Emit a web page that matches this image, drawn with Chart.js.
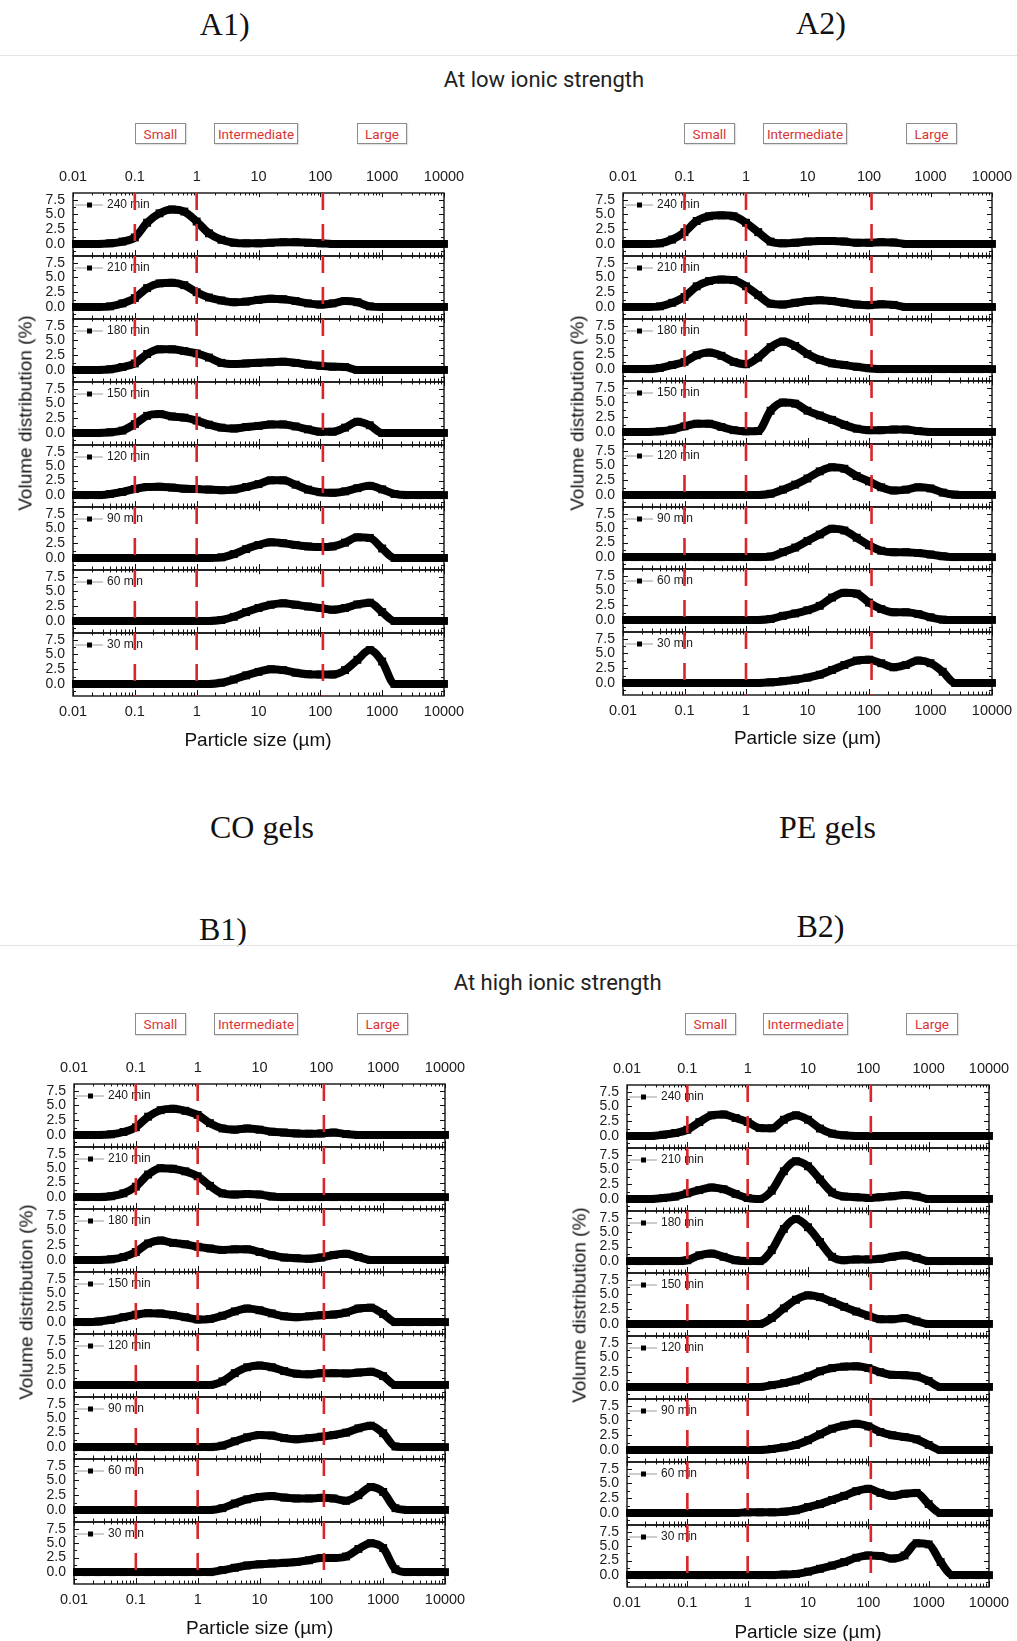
<!DOCTYPE html>
<html>
<head>
<meta charset="utf-8">
<title>Particle size distributions</title>
<script src="https://cdn.jsdelivr.net/npm/chart.js@4.4.1/dist/chart.umd.min.js"></script>
<style>
  body { margin: 0; background: #fff; }
  #fig { position: relative; width: 1017px; height: 1641px; overflow: hidden; background: #fff; }
  .t { position: absolute; transform: translate(-50%, -50%); white-space: nowrap; line-height: 1; }
  .serif { font-family: 'Liberation Serif', 'Times New Roman', serif; font-size: 32px; color: #111; }
  .head { font-family: Roboto, sans-serif; font-size: 22px; color: #222; }
  .axt { font-family: 'Liberation Sans', Arial, sans-serif; font-size: 19px; color: #111; }
  .box { position: absolute; box-sizing: border-box; border: 1px solid #8c8c8c; display: flex;
         align-items: center; justify-content: center; font-family: Roboto, sans-serif;
         font-size: 13.5px; color: #d83434; box-shadow: 1px 1px 1px rgba(0,0,0,.12); }
  .rule { position: absolute; left: 0; width: 1017px; height: 1px; background: #e4e4e4; }
  canvas { position: absolute; }
</style>
</head>
<body>
<div id="fig"></div>
<script>
// size classes (µm), five per decade
const sizes = [0.01, 0.0158, 0.0251, 0.0398, 0.0631, 0.1, 0.158, 0.251, 0.398, 0.631,
               1, 1.58, 2.51, 3.98, 6.31, 10, 15.8, 25.1, 39.8, 63.1,
               100, 158, 251, 398, 631, 1000, 1580, 2510, 3980, 6310, 10000];
const timeLabels = ['240 min', '210 min', '180 min', '150 min', '120 min', '90 min', '60 min', '30 min'];
const xTicks = [0.01, 0.1, 1, 10, 100, 1000, 10000];
const yTicks = [0, 2.5, 5, 7.5];
const cutoffs = [0.1, 1, 110];          // boundaries between size classes
const regionNames = ['Small', 'Intermediate', 'Large'];

// CO gels, low ionic strength
const coLow240 = [0,0,0,0.1,0.4,1.1,3.6,5.2,5.85,5.5,3.8,1.8,0.7,0.2,0.1,0.1,0.2,0.3,0.3,0.2,0.1,0,0,0,0,0,0,0,0,0,0];
const coLow210 = [0,0,0,0.1,0.6,1.5,3.2,4.0,4.1,3.7,2.5,1.6,1.1,0.8,0.9,1.2,1.4,1.3,1.0,0.6,0.4,0.6,1.0,0.8,0.1,0,0,0,0,0,0];
const coLow180 = [0,0,0,0.1,0.5,1.1,2.7,3.5,3.5,3.2,2.8,2.1,1.2,1.0,1.1,1.2,1.3,1.4,1.2,0.9,0.7,0.55,0.5,0,0,0,0,0,0,0,0];
const coLow150 = [0,0,0,0.1,0.4,1.5,2.9,3.2,2.8,2.6,2.1,1.4,0.9,0.75,1.0,1.2,1.45,1.45,1.1,0.6,0.2,0.2,0.9,1.9,1.3,0,0,0,0,0,0];
const coLow120 = [0,0,0,0.2,0.55,1.05,1.4,1.45,1.3,1.1,1.05,0.95,0.85,0.95,1.4,1.9,2.55,2.55,1.8,0.95,0.5,0.4,0.65,1.2,1.6,1.0,0.2,0,0,0,0];
const coLow90  = [0,0,0,0,0,0,0,0,0,0,0,0,0.1,0.65,1.5,2.2,2.65,2.5,2.2,1.95,1.85,1.95,2.6,3.5,3.4,1.6,0,0,0,0,0];
const coLow60  = [0,0,0,0,0,0,0,0,0,0,0,0,0.15,0.7,1.5,2.2,2.75,3.0,2.75,2.45,2.2,1.9,2.2,2.8,3.1,1.5,0,0,0,0,0];
const coLow30  = [0,0,0,0,0,0,0,0,0,0,0,0,0.2,0.75,1.45,2.05,2.5,2.35,1.9,1.65,1.6,1.6,2.35,4.1,5.75,3.8,0,0,0,0,0];

// PE gels, low ionic strength
const peLow240 = [0,0,0,0.1,0.75,2.0,3.9,4.7,4.85,4.7,3.6,2.0,0.4,0.1,0.2,0.4,0.5,0.5,0.4,0.2,0.2,0.3,0.25,0,0,0,0,0,0,0,0];
const peLow210 = [0,0,0,0.1,0.7,1.7,3.5,4.4,4.65,4.55,3.5,2.0,0.55,0.4,0.7,1.0,1.15,1.0,0.7,0.4,0.3,0.45,0.35,0,0,0,0,0,0,0,0];
const peLow180 = [0,0,0,0.2,0.7,1.25,2.4,2.85,2.3,1.25,0.85,2.0,3.8,4.75,4.0,2.6,1.6,1.0,0.7,0.4,0.15,0,0,0,0,0,0,0,0,0,0];
const peLow150 = [0,0,0,0.1,0.4,0.95,1.4,1.4,0.85,0.3,0.1,0.15,3.6,5.0,4.8,3.6,2.8,2.05,1.2,0.55,0.3,0.3,0.4,0.4,0.15,0,0,0,0,0,0];
const peLow120 = [0,0,0,0,0,0,0,0,0,0,0,0,0.2,0.9,1.75,2.8,4.0,4.7,4.45,3.2,2.3,1.3,0.75,0.9,1.3,1.1,0.4,0.05,0,0,0];
const peLow90  = [0,0,0,0,0,0,0,0,0,0,0,0,0.1,0.85,1.65,2.8,3.9,4.9,4.6,3.35,2.05,1.1,0.85,0.85,0.7,0.45,0.15,0,0,0,0];
const peLow60  = [0,0,0,0,0,0,0,0,0,0,0,0,0.15,0.7,1.1,1.65,2.4,3.8,4.6,4.45,2.95,1.85,1.3,1.3,1.0,0.45,0.05,0,0,0,0];
const peLow30  = [0,0,0,0,0,0,0,0,0,0,0,0,0.1,0.3,0.55,0.9,1.4,2.2,3.05,3.8,3.95,3.35,2.65,3.05,3.8,3.35,1.9,0,0,0,0];

// CO gels, high ionic strength
const coHigh240 = [0,0,0,0.1,0.5,1.3,3.1,4.2,4.45,4.1,3.4,2.0,1.1,0.9,1.1,0.9,0.55,0.4,0.25,0.2,0.25,0.4,0.15,0,0,0,0,0,0,0,0];
const coHigh210 = [0,0,0,0.15,0.65,1.8,3.9,5.0,4.9,4.45,3.6,1.95,0.65,0.45,0.55,0.45,0.1,0,0,0,0,0,0,0,0,0,0,0,0,0,0];
const coHigh180 = [0,0,0,0.1,0.5,1.35,2.8,3.3,2.9,2.65,2.25,1.95,1.7,1.8,1.8,1.35,0.8,0.4,0.3,0.2,0.4,0.85,1.05,0.5,0,0,0,0,0,0,0];
const coHigh150 = [0,0,0.1,0.4,0.85,1.3,1.55,1.5,1.2,0.85,0.45,0.55,1.1,1.85,2.35,2.05,1.5,1.0,0.85,1.0,1.2,1.3,1.65,2.35,2.5,1.4,0,0,0,0,0];
const coHigh120 = [0,0,0,0,0,0,0,0,0,0,0,0,0.6,2.0,3.0,3.3,3.0,2.35,1.9,1.8,2.0,2.0,1.95,2.1,2.25,1.5,0,0,0,0,0];
const coHigh90  = [0,0,0,0,0,0,0,0,0,0,0,0,0.25,1.0,1.7,2.1,2.0,1.55,1.35,1.55,1.8,2.1,2.5,3.25,3.7,2.4,0.1,0,0,0,0];
const coHigh60  = [0,0,0,0,0,0,0,0,0,0,0,0,0.3,1.1,1.8,2.2,2.35,2.1,1.95,1.95,2.05,1.95,1.55,2.5,3.9,3.05,0.3,0,0,0,0];
const coHigh30  = [0,0,0,0,0,0,0,0,0,0,0,0,0.35,0.75,1.15,1.35,1.5,1.6,1.75,2.05,2.45,2.45,2.7,4.0,5.0,4.15,0.5,0,0,0,0];

// PE gels, high ionic strength
const peHigh240 = [0,0,0,0.2,0.5,1.05,2.35,3.5,3.65,3.05,2.35,1.35,1.3,2.75,3.5,2.75,1.25,0.4,0.1,0,0,0,0,0,0,0,0,0,0,0,0];
const peHigh210 = [0,0,0,0.15,0.4,0.95,1.5,1.95,1.65,0.85,0.15,0,1.4,4.7,6.4,5.55,3.3,1.1,0.4,0.3,0.15,0.3,0.45,0.65,0.45,0,0,0,0,0,0];
const peHigh180 = [0,0,0,0,0,0.15,1.0,1.3,0.75,0.15,0,0,1.9,5.55,7.25,5.85,3.3,0.75,0.15,0.3,0.3,0.4,0.75,1.0,0.55,0,0,0,0,0,0];
const peHigh150 = [0,0,0,0,0,0,0,0,0,0,0,0,1.0,2.65,4.1,4.85,4.55,3.75,2.9,2.1,1.4,0.8,0.8,1.0,0.45,0,0,0,0,0,0];
const peHigh120 = [0,0,0,0,0,0,0,0,0,0,0,0,0.3,0.65,1.1,1.8,2.65,3.2,3.45,3.5,3.2,2.5,2.05,2.0,1.8,1.0,0,0,0,0,0];
const peHigh90  = [0,0,0,0,0,0,0,0,0,0,0,0,0.15,0.45,0.85,1.65,2.65,3.6,4.15,4.45,4.0,3.05,2.5,2.2,1.8,0.85,0,0,0,0,0];
const peHigh60  = [0,0,0,0,0,0,0,0,0,0,0.1,0.1,0.1,0.2,0.45,1.0,1.5,2.2,2.9,3.7,4.1,3.4,2.9,3.25,3.4,1.5,0,0,0,0,0];
const peHigh30  = [0,0,0,0,0,0,0,0,0,0,0,0,0,0.1,0.2,0.6,1.1,1.65,2.25,3.0,3.4,3.3,2.85,3.4,5.5,5.3,2.25,0,0,0,0];

const coLow  = [coLow240, coLow210, coLow180, coLow150, coLow120, coLow90, coLow60, coLow30];
const peLow  = [peLow240, peLow210, peLow180, peLow150, peLow120, peLow90, peLow60, peLow30];
const coHigh = [coHigh240, coHigh210, coHigh180, coHigh150, coHigh120, coHigh90, coHigh60, coHigh30];
const peHigh = [peHigh240, peHigh210, peHigh180, peHigh150, peHigh120, peHigh90, peHigh60, peHigh30];

const FONT = "'Liberation Sans', Arial, sans-serif";
const yMin = -2.05, yMax = 8.65;
const PAD_L = 60, PAD_R = 40, PAD_V = 30;   // canvas margin around each plot area
const fig = document.getElementById('fig');

// plot rectangle [left, right, top, bottom] of each stack of 8 layers
const panels = [
  { series: coLow,  plot: [72.7, 443.3, 193.3, 695.7], boxes: [[135,186],[214,298],[357,407]], boxTop: 123,  boxH: 21, xTitle: [258, 739],    yTitle: [25, 412.5] },
  { series: peLow,  plot: [622.7, 991.7, 193.3, 694.5], boxes: [[684,735],[763,847],[906,957]], boxTop: 123,  boxH: 21, xTitle: [807.5, 737],  yTitle: [576.5, 412.5] },
  { series: coHigh, plot: [74, 445, 1084, 1584.3],      boxes: [[135,186],[214,298],[357,408]], boxTop: 1013, boxH: 22, xTitle: [259.7, 1627], yTitle: [25.5, 1302] },
  { series: peHigh, plot: [627.3, 989.3, 1085, 1587.3], boxes: [[685,736],[763,848],[906,958]], boxTop: 1013, boxH: 22, xTitle: [808, 1630.7], yTitle: [579, 1305] },
];

function addText(str, x, y, cls, rotate) {
  const el = document.createElement('div');
  el.className = 't ' + cls;
  el.textContent = str;
  el.style.left = x + 'px';
  el.style.top = y + 'px';
  if (rotate) el.style.transform = 'translate(-50%, -50%) rotate(-90deg)';
  fig.appendChild(el);
}

function addRule(y) {
  const el = document.createElement('div');
  el.className = 'rule';
  el.style.top = y + 'px';
  fig.appendChild(el);
}

// box, inward ticks and the small legend of each layer
const framePlugin = {
  id: 'frame',
  beforeDatasetsDraw(chart) {
    const { ctx, chartArea: a } = chart;
    const x = chart.scales.x, y = chart.scales.y;
    ctx.save();
    ctx.strokeStyle = '#111';
    ctx.lineWidth = 1;
    ctx.beginPath();
    xTicks.forEach((dec, d) => {
      const last = d === xTicks.length - 1;
      for (let m = 1; m <= (last ? 1 : 9); m++) {
        const px = Math.round(x.getPixelForValue(dec * m)) + 0.5;
        const len = m === 1 ? 6 : 3.5;
        ctx.moveTo(px, a.bottom); ctx.lineTo(px, a.bottom - len);
        ctx.moveTo(px, a.top); ctx.lineTo(px, a.top + len * 0.7);
      }
    });
    const yMinor = yTicks.map(v => v - 1.25);
    [...yTicks, ...yMinor].forEach((v, k) => {
      const py = Math.round(y.getPixelForValue(v)) + 0.5;
      const len = k < yTicks.length ? 5 : 3;
      ctx.moveTo(a.left, py); ctx.lineTo(a.left + len, py);
      ctx.moveTo(a.right, py); ctx.lineTo(a.right - len, py);
    });
    ctx.stroke();
    ctx.lineWidth = 1.4;
    ctx.strokeRect(a.left, a.top, a.right - a.left, a.bottom - a.top);

    // legend: line + square symbol, then the time label
    const ly = a.top + 12;
    ctx.strokeStyle = '#9a9a9a';
    ctx.lineWidth = 1;
    ctx.beginPath();
    ctx.moveTo(a.left + 2, ly); ctx.lineTo(a.left + 30, ly);
    ctx.stroke();
    ctx.fillStyle = '#000';
    ctx.fillRect(a.left + 14, ly - 2.5, 5, 5);
    ctx.font = '12px ' + FONT;
    ctx.fillStyle = '#1a1a1a';
    ctx.textBaseline = 'middle';
    ctx.fillText(chart.data.datasets[cutoffs.length].label, a.left + 34, ly);
    ctx.restore();
  }
};

function makeLayer(left, top, width, height, values, label, isTop, isBottom) {
  const cv = document.createElement('canvas');
  cv.width = width + PAD_L + PAD_R;
  cv.height = height + 2 * PAD_V;
  cv.style.left = (left - PAD_L) + 'px';
  cv.style.top = (top - PAD_V) + 'px';
  cv.style.width = cv.width + 'px';
  cv.style.height = cv.height + 'px';
  fig.appendChild(cv);

  const showX = isTop || isBottom;

  const dashes = cutoffs.map(c => ({
    data: [{ x: c, y: yMax }, { x: c, y: yMin }],
    borderColor: '#d8262b',
    borderWidth: 2.6,
    borderDash: [17, 14],
    pointRadius: 0
  }));

  const curve = {
    label: label,
    data: sizes.map((s, i) => ({ x: s, y: values[i] })),
    borderColor: '#000',
    borderWidth: 8,
    pointStyle: 'rect',
    pointRadius: 5.6,
    pointBackgroundColor: '#000',
    pointBorderWidth: 0,
    cubicInterpolationMode: 'monotone',
    clip: { left: 1, right: 5, top: 2, bottom: 2 }
  };

  return new Chart(cv, {
    type: 'line',
    data: { datasets: [...dashes, curve] },
    options: {
      responsive: false,
      animation: false,
      events: [],
      layout: { padding: { left: 0, right: PAD_R, top: isTop ? 0 : PAD_V, bottom: isBottom ? 0 : PAD_V } },
      plugins: { legend: { display: false }, tooltip: { enabled: false } },
      scales: {
        x: {
          type: 'logarithmic',
          min: 0.01,
          max: 10000,
          display: showX,
          position: isTop ? 'top' : 'bottom',
          grid: { display: false, drawTicks: false },
          border: { display: false },
          ticks: {
            autoSkip: false, maxRotation: 0, padding: 7, color: '#1a1a1a',
            font: { family: FONT, size: 14.5 },
            callback: v => String(v)
          },
          afterBuildTicks: s => { s.ticks = xTicks.map(v => ({ value: v })); },
          afterFit: s => { s.height = showX ? PAD_V : 0; }
        },
        y: {
          type: 'linear',
          min: yMin,
          max: yMax,
          grid: { display: false, drawTicks: false },
          border: { display: false },
          ticks: {
            autoSkip: false, padding: 8, color: '#1a1a1a',
            font: { family: FONT, size: 14 },
            callback: v => v.toFixed(1)
          },
          afterBuildTicks: s => { s.ticks = yTicks.map(v => ({ value: v })); },
          afterFit: s => { s.width = PAD_L; }
        }
      }
    },
    plugins: [framePlugin]
  });
}

// headings
addText('A1)', 224.7, 23.7, 'serif');
addText('A2)', 821, 22.8, 'serif');
addRule(55);
addText('At low ionic strength', 544, 80, 'head');
addText('CO gels', 262, 826.7, 'serif');
addText('PE gels', 827.5, 826.7, 'serif');
addText('B1)', 223, 929, 'serif');
addText('B2)', 820.4, 926, 'serif');
addRule(945);
addText('At high ionic strength', 557.7, 982.5, 'head');

panels.forEach(p => {
  const [l, r, t, b] = p.plot;
  const left = Math.round(l), width = Math.round(r - l);
  const step = (b - t) / p.series.length;
  p.series.forEach((vals, i) => {
    const top = Math.round(t + i * step);
    const height = Math.round(t + (i + 1) * step) - top;
    makeLayer(left, top, width, height, vals, timeLabels[i], i === 0, i === p.series.length - 1);
  });

  p.boxes.forEach(([x0, x1], k) => {
    const el = document.createElement('div');
    el.className = 'box';
    el.textContent = regionNames[k];
    el.style.left = x0 + 'px';
    el.style.top = p.boxTop + 'px';
    el.style.width = (x1 - x0) + 'px';
    el.style.height = p.boxH + 'px';
    fig.appendChild(el);
  });

  addText('Particle size (µm)', p.xTitle[0], p.xTitle[1], 'axt');
  addText('Volume distribution (%)', p.yTitle[0], p.yTitle[1], 'axt', true);
});
</script>
</body>
</html>
